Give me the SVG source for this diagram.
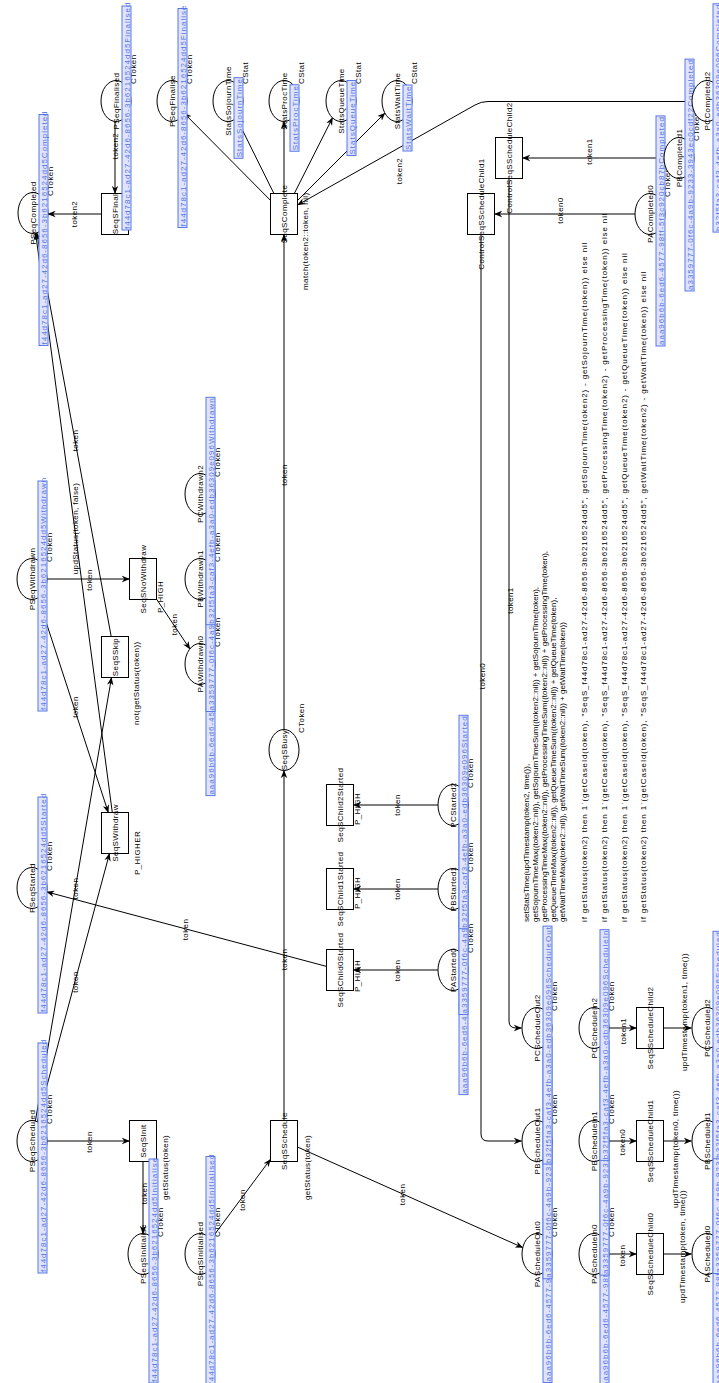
<svg xmlns="http://www.w3.org/2000/svg" width="719" height="1383" viewBox="0 0 719 1383">
<defs>
<marker id="ah" viewBox="0 0 10 10" refX="9.5" refY="5" markerWidth="8" markerHeight="8" markerUnits="userSpaceOnUse" orient="auto"><path d="M0,1 L10,5 L0,9 L3,5 z" fill="#000"/></marker>
<style>
text{font-family:"Liberation Sans",Arial,sans-serif;font-size:8px;fill:#000}
.pl,.tr{fill:#fff;stroke:#000;stroke-width:1}
.a{fill:none;stroke:#000;stroke-width:1;marker-end:url(#ah)}
.lb{fill:#dfe3fb;stroke:#5878e8;stroke-width:1}
.lt{fill:#5575e5;letter-spacing:1px}
.m{text-anchor:middle;letter-spacing:0.4px}
.s{letter-spacing:0.4px}
.w{letter-spacing:0.86px}
</style>
</defs>
<rect width="719" height="1383" fill="#fff"/>
<g transform="translate(0,1383) rotate(-90)">
<g id="connectors">
<path class="a" d="M1261.5,115 L1189.5,115"/><text class="m" x="1237" y="118">token2</text>
<path class="a" d="M1169,101.5 L1169,48"/><text class="m" x="1169" y="77">token2</text>
<path class="a" d="M1182.6,270.5 L1269.9,184"/>
<path class="a" d="M1189.5,273.9 L1265.3,236.3"/>
<path class="a" d="M1189.5,284 L1261.5,284"/>
<path class="a" d="M1189.5,294.3 L1265.3,332.6"/>
<path class="a" d="M1182.5,297.5 L1270,385"/>
<path class="a" d="M1281.5,692 L1281.5,488 Q1281.5,481 1278,475 L1178,297.5"/><text class="m" x="1212" y="402">token2</text>
<path class="a" d="M653.5,284 L1148.5,284"/><text class="m" x="908" y="287">token</text>
<path class="a" d="M262.5,284 L612.5,284"/><text class="m" x="423.5" y="287">token</text>
<path class="a" d="M143.2,210.6 L223.8,270.5"/><text class="m" x="183" y="245">token</text>
<path class="a" d="M236,297.5 L135.4,522.8"/><text class="m" x="188.5" y="405">token</text>
<path class="a" d="M242,47 L242,129.5"/><text class="m" x="241" y="92">token</text>
<path class="a" d="M221.5,143 L149.5,143"/><text class="m" x="189.5" y="147">token</text>
<path class="a" d="M261.5,35.3 L705.5,111.5"/><text class="m" x="494.5" y="78">token</text>
<path class="a" d="M260.8,37.1 L529.5,109.5"/><text class="m" x="401" y="78">token</text>
<path class="a" d="M785.7,38 L570.5,108.3"/><text class="m" x="676" y="78">token</text>
<path class="a" d="M570.5,112.3 L1150.3,35.6"/><text class="m" x="854.5" y="78">updStatus(token, false)</text>
<path class="a" d="M746.5,111.2 L1150.6,36.6"/><text class="m" x="942.5" y="78">token</text>
<path class="a" d="M804,47 L804,129.5"/><text class="m" x="803" y="92">token</text>
<path class="a" d="M783.9,156.5 L733.9,190"/><text class="m" x="758.5" y="177">token</text>
<path class="a" d="M416.6,326.5 L491.1,46.7"/><text class="m" x="453.5" y="188">token</text>
<path class="a" d="M413,438 L413,353.5"/><text class="m" x="412.5" y="400">token</text>
<path class="a" d="M494,438 L494,353.5"/><text class="m" x="494" y="400">token</text>
<path class="a" d="M578,438 L578,353.5"/><text class="m" x="578" y="400">token</text>
<path class="a" d="M1169,635 L1169,494.5"/><text class="m" x="1172.5" y="563">token0</text>
<path class="a" d="M1225,664 L1225,522.5"/><text class="m" x="1231.5" y="592">token1</text>
<path class="a" d="M1148.5,481 L249,481 Q242,481 242,488 L242,521.5"/><text class="m" x="707" y="485">token0</text>
<path class="a" d="M1204.5,509 L362,509 Q355,509 355,516 L355,521.5"/><text class="m" x="782.5" y="513">token1</text>
<path class="a" d="M129,609 L129,636.5"/><text class="m" x="127.5" y="625">token</text>
<path class="a" d="M242,609 L242,636.5"/><text class="m" x="241" y="625">token0</text>
<path class="a" d="M355,609 L355,636.5"/><text class="m" x="352" y="626">token1</text>
<path class="a" d="M129,663.5 L129,691.5"/><text class="m" x="136.5" y="685">updTimestamp(token, time())</text>
<path class="a" d="M242,663.5 L242,691.5"/><text class="m" x="234" y="678">updTimestamp(token0, time())</text>
<path class="a" d="M355,663.5 L355,691.5"/><text class="m" x="371" y="687">updTimestamp(token1, time())</text>
<g id="complete-inscriptions">
<text x="461" y="529">setStatsTime(updTimestamp(token2, time()),</text>
<text x="461" y="538">getSojournTimeMax((token2::nil)), getSojournTimeSum((token2::nil)) + getSojournTime(token),</text>
<text x="461" y="547">getProcessingTimeMax((token2::nil)), getProcessingTimeSum((token2::nil)) + getProcessingTime(token),</text>
<text x="461" y="556">getQueueTimeMax((token2::nil)), getQueueTimeSum((token2::nil)) + getQueueTime(token),</text>
<text x="461" y="565">getWaitTimeMax((token2::nil)), getWaitTimeSum((token2::nil)) + getWaitTime(token))</text>
<text class="w" x="461" y="587">if getStatus(token2) then 1`(getCaseId(token), "SeqS_f44d78c1-ad27-42d6-8656-3b6216524dd5", getSojournTime(token2) - getSojournTime(token)) else nil</text>
<text class="w" x="461" y="607">if getStatus(token2) then 1`(getCaseId(token), "SeqS_f44d78c1-ad27-42d6-8656-3b6216524dd5", getProcessingTime(token2) - getProcessingTime(token)) else nil</text>
<text class="w" x="461" y="627">if getStatus(token2) then 1`(getCaseId(token), "SeqS_f44d78c1-ad27-42d6-8656-3b6216524dd5", getQueueTime(token2) - getQueueTime(token)) else nil</text>
<text class="w" x="461" y="646">if getStatus(token2) then 1`(getCaseId(token), "SeqS_f44d78c1-ad27-42d6-8656-3b6216524dd5", getWaitTime(token2) - getWaitTime(token)) else nil</text>
</g>
</g>
<g id="SeqSFinal"><rect class="tr" x="1148.5" y="101.5" width="41" height="27"/><text class="m" x="1169" y="118">SeqSFinal</text></g>
<g id="SeqSComplete"><rect class="tr" x="1148.5" y="270.5" width="41" height="27"/><text class="m" x="1169" y="287">SeqSComplete</text><text class="s" x="1093" y="308">match(token2::token, nil)</text></g>
<g id="SeqSSkip"><rect class="tr" x="705.5" y="101.5" width="41" height="27"/><text class="m" x="726" y="118">SeqSSkip</text><text class="s" x="658" y="139">not(getStatus(token))</text></g>
<g id="SeqSNoWithdraw"><rect class="tr" x="783.5" y="129.5" width="41" height="27"/><text class="m" x="804" y="146">SeqSNoWithdraw</text><text class="s" x="770" y="163">P_HIGH</text></g>
<g id="SeqSWithdraw"><rect class="tr" x="529.5" y="101.5" width="41" height="27"/><text class="m" x="550" y="118">SeqSWithdraw</text><text class="s" x="508" y="140">P_HIGHER</text></g>
<g id="SeqSInit"><rect class="tr" x="221.5" y="129.5" width="41" height="27"/><text class="m" x="242" y="146">SeqSInit</text><text class="s" x="183" y="168">getStatus(token)</text></g>
<g id="SeqSSchedule"><rect class="tr" x="221.5" y="270.5" width="41" height="27"/><text class="m" x="242" y="287">SeqSSchedule</text><text class="s" x="183" y="310">getStatus(token)</text></g>
<g id="SeqSChild0Started"><rect class="tr" x="392.5" y="326.5" width="41" height="27"/><text class="m" x="413" y="343">SeqSChild0Started</text><text class="s" x="391" y="360">P_HIGH</text></g>
<g id="SeqSChild1Started"><rect class="tr" x="473.5" y="326.5" width="41" height="27"/><text class="m" x="494" y="343">SeqSChild1Started</text><text class="s" x="474" y="360">P_HIGH</text></g>
<g id="SeqSChild2Started"><rect class="tr" x="557.5" y="326.5" width="41" height="27"/><text class="m" x="578" y="343">SeqSChild2Started</text><text class="s" x="558" y="360">P_HIGH</text></g>
<g id="ControlSeqSScheduleChild1"><rect class="tr" x="1148.5" y="467.5" width="41" height="27"/><text class="m" x="1169" y="484">ControlSeqSScheduleChild1</text></g>
<g id="ControlSeqSScheduleChild2"><rect class="tr" x="1204.5" y="495.5" width="41" height="27"/><text class="m" x="1225" y="512">ControlSeqSScheduleChild2</text></g>
<g id="SeqSScheduleChild0"><rect class="tr" x="108.5" y="636.5" width="41" height="27"/><text class="m" x="129" y="653">SeqSScheduleChild0</text></g>
<g id="SeqSScheduleChild1"><rect class="tr" x="221.5" y="636.5" width="41" height="27"/><text class="m" x="242" y="653">SeqSScheduleChild1</text></g>
<g id="SeqSScheduleChild2"><rect class="tr" x="334.5" y="636.5" width="41" height="27"/><text class="m" x="355" y="653">SeqSScheduleChild2</text></g>

<g id="PSeqCompleted"><ellipse class="pl" cx="1170" cy="33" rx="20.5" ry="15"/><text class="m" x="1170" y="36">PSeqCompleted</text><text class="s" x="1187" y="53">CToken</text><rect class="lb" x="1037.5" y="39" width="231" height="9"/><text class="lt" x="1038.5" y="46.5">f44d78c1-ad27-42d6-8656-3b6216524dd5Completed</text></g>
<g id="PSeqWithdrawn"><ellipse class="pl" cx="804" cy="32" rx="20.5" ry="15"/><text class="m" x="804" y="35">PSeqWithdrawn</text><text class="s" x="821" y="52">CToken</text><rect class="lb" x="672" y="38" width="230" height="9"/><text class="lt" x="673" y="45.5">f44d78c1-ad27-42d6-8656-3b6216524dd5Withdrawn</text></g>
<g id="PSeqStarted"><ellipse class="pl" cx="495" cy="32" rx="20.5" ry="15"/><text class="m" x="495" y="35">PSeqStarted</text><text class="s" x="512" y="52">CToken</text><rect class="lb" x="370" y="38" width="216" height="9"/><text class="lt" x="371" y="45.5">f44d78c1-ad27-42d6-8656-3b6216524dd5Started</text></g>
<g id="PSeqScheduled"><ellipse class="pl" cx="242" cy="32" rx="20.5" ry="15"/><text class="m" x="242" y="35">PSeqScheduled</text><text class="s" x="259" y="52">CToken</text><rect class="lb" x="110" y="38" width="230" height="9"/><text class="lt" x="111" y="45.5">f44d78c1-ad27-42d6-8656-3b6216524dd5Scheduled</text></g>
<g id="PSeqFinalised"><ellipse class="pl" cx="1282" cy="116" rx="20.5" ry="15"/><text class="m" x="1282" y="119">PSeqFinalised</text><text class="s" x="1299" y="136">CToken</text><rect class="lb" x="1153" y="122" width="224" height="9"/><text class="lt" x="1154" y="129.5">f44d78c1-ad27-42d6-8656-3b6216524dd5Finalised</text></g>
<g id="PSeqFinalise"><ellipse class="pl" cx="1282" cy="172" rx="20.5" ry="15"/><text class="m" x="1282" y="175">PSeqFinalise</text><text class="s" x="1299" y="192">CToken</text><rect class="lb" x="1155.5" y="178" width="219" height="9"/><text class="lt" x="1156.5" y="185.5">f44d78c1-ad27-42d6-8656-3b6216524dd5Finalise</text></g>
<g id="PSeqSInitialise"><ellipse class="pl" cx="129" cy="143" rx="20.5" ry="15"/><text class="m" x="129" y="146">PSeqSInitialise</text><text class="s" x="146" y="163">CToken</text><rect class="lb" x="0" y="149" width="224" height="9"/><text class="lt" x="1" y="156.5">f44d78c1-ad27-42d6-8656-3b6216524dd5Initialise</text></g>
<g id="PSeqSInitialised"><ellipse class="pl" cx="129" cy="200" rx="20.5" ry="15"/><text class="m" x="129" y="203">PSeqSInitialised</text><text class="s" x="146" y="220">CToken</text><rect class="lb" x="-2.5" y="206" width="229" height="9"/><text class="lt" x="-1.5" y="213.5">f44d78c1-ad27-42d6-8656-3b6216524dd5Initialised</text></g>
<g id="StatsSojournTime"><ellipse class="pl" cx="1282" cy="228" rx="20.5" ry="15"/><text class="m" x="1282" y="231">StatsSojournTime</text><text class="s" x="1299" y="248">CStat</text><rect class="lb" x="1224.7" y="234" width="80.6" height="9"/><text class="lt" x="1225.7" y="241.5">StatsSojournTime</text></g>
<g id="StatsProcTime"><ellipse class="pl" cx="1282" cy="284" rx="20.5" ry="15"/><text class="m" x="1282" y="287">StatsProcTime</text><text class="s" x="1299" y="304">CStat</text><rect class="lb" x="1231.75" y="290" width="66.5" height="9"/><text class="lt" x="1232.75" y="297.5">StatsProcTime</text></g>
<g id="StatsQueueTime"><ellipse class="pl" cx="1282" cy="341" rx="20.5" ry="15"/><text class="m" x="1282" y="344">StatsQueueTime</text><text class="s" x="1299" y="361">CStat</text><rect class="lb" x="1227.5" y="347" width="75" height="9"/><text class="lt" x="1228.5" y="354.5">StatsQueueTime</text></g>
<g id="StatsWaitTime"><ellipse class="pl" cx="1282" cy="397" rx="20.5" ry="15"/><text class="m" x="1282" y="400">StatsWaitTime</text><text class="s" x="1299" y="417">CStat</text><rect class="lb" x="1232" y="403" width="66" height="9"/><text class="lt" x="1233" y="410.5">StatsWaitTime</text></g>
<g id="SeqSBusy"><ellipse class="pl" cx="633" cy="284" rx="20.5" ry="15"/><text class="m" x="633" y="287">SeqSBusy</text><text class="s" x="650" y="304">CToken</text></g>
<g id="PAWithdrawn0"><ellipse class="pl" cx="719" cy="200" rx="20.5" ry="15"/><text class="m" x="719" y="203">PAWithdrawn0</text><text class="s" x="736" y="220">CToken</text><rect class="lb" x="587.4" y="206" width="229.2" height="9"/><text class="lt" x="588.4" y="213.5">aaa96b6b-6ed6-4577-98ff-5f3c920cb87bWithdrawn</text></g>
<g id="PBWithdrawn1"><ellipse class="pl" cx="804" cy="200" rx="20.5" ry="15"/><text class="m" x="804" y="203">PBWithdrawn1</text><text class="s" x="821" y="220">CToken</text><rect class="lb" x="671.5" y="206" width="231" height="9"/><text class="lt" x="672.5" y="213.5">a3359777-0f6c-4a9b-9233-3943ec0cdf22Withdrawn</text></g>
<g id="PCWithdrawn2"><ellipse class="pl" cx="889" cy="200" rx="20.5" ry="15"/><text class="m" x="889" y="203">PCWithdrawn2</text><text class="s" x="906" y="220">CToken</text><rect class="lb" x="758.3" y="206" width="227.4" height="9"/><text class="lt" x="759.3" y="213.5">b32f5fa3-caf3-4efb-a3a0-edb36309e096Withdrawn</text></g>
<g id="PAStarted0"><ellipse class="pl" cx="413" cy="453" rx="20.5" ry="15"/><text class="m" x="413" y="456">PAStarted0</text><text class="s" x="430" y="473">CToken</text><rect class="lb" x="288.4" y="459" width="215.2" height="9"/><text class="lt" x="289.4" y="466.5">aaa96b6b-6ed6-4577-98ff-5f3c920cb87bStarted</text></g>
<g id="PBStarted1"><ellipse class="pl" cx="494" cy="453" rx="20.5" ry="15"/><text class="m" x="494" y="456">PBStarted1</text><text class="s" x="511" y="473">CToken</text><rect class="lb" x="368.5" y="459" width="217" height="9"/><text class="lt" x="369.5" y="466.5">a3359777-0f6c-4a9b-9233-3943ec0cdf22Started</text></g>
<g id="PCStarted2"><ellipse class="pl" cx="578" cy="453" rx="20.5" ry="15"/><text class="m" x="578" y="456">PCStarted2</text><text class="s" x="595" y="473">CToken</text><rect class="lb" x="454.3" y="459" width="213.4" height="9"/><text class="lt" x="455.3" y="466.5">b32f5fa3-caf3-4efb-a3a0-edb36309e096Started</text></g>
<g id="PACompleted0"><ellipse class="pl" cx="1169" cy="650" rx="20.5" ry="15"/><text class="m" x="1169" y="653">PACompleted0</text><text class="s" x="1186" y="670">CToken</text><rect class="lb" x="1037" y="656" width="230.1" height="9"/><text class="lt" x="1038" y="663.5">aaa96b6b-6ed6-4577-98ff-5f3c920cb87bCompleted</text></g>
<g id="PBCompleted1"><ellipse class="pl" cx="1225" cy="679" rx="20.5" ry="15"/><text class="m" x="1225" y="682">PBCompleted1</text><text class="s" x="1242" y="699">CToken</text><rect class="lb" x="1092" y="685" width="231.9" height="9"/><text class="lt" x="1093" y="692.5">a3359777-0f6c-4a9b-9233-3943ec0cdf22Completed</text></g>
<g id="PCCompleted2"><ellipse class="pl" cx="1282" cy="707" rx="20.5" ry="15"/><text class="m" x="1282" y="710">PCCompleted2</text><text class="s" x="1299" y="727">CToken</text><rect class="lb" x="1150.9" y="713" width="228.3" height="9"/><text class="lt" x="1151.9" y="720.5">b32f5fa3-caf3-4efb-a3a0-edb36309e096Completed</text></g>
<g id="PAScheduleOut0"><ellipse class="pl" cx="129" cy="537" rx="20.5" ry="15"/><text class="m" x="129" y="540">PAScheduleOut0</text><text class="s" x="146" y="557">CToken</text><rect class="lb" x="0.5" y="543" width="239.7" height="9"/><text class="lt" x="1.5" y="550.5">aaa96b6b-6ed6-4577-98ff-5f3c920cb87bScheduleOut</text></g>
<g id="PBScheduleOut1"><ellipse class="pl" cx="242" cy="537" rx="20.5" ry="15"/><text class="m" x="242" y="540">PBScheduleOut1</text><text class="s" x="259" y="557">CToken</text><rect class="lb" x="104.3" y="543" width="241.4" height="9"/><text class="lt" x="105.3" y="550.5">a3359777-0f6c-4a9b-9233-3943ec0cdf22ScheduleOut</text></g>
<g id="PCScheduleOut2"><ellipse class="pl" cx="355" cy="537" rx="20.5" ry="15"/><text class="m" x="355" y="540">PCScheduleOut2</text><text class="s" x="372" y="557">CToken</text><rect class="lb" x="219" y="543" width="237.9" height="9"/><text class="lt" x="220" y="550.5">b32f5fa3-caf3-4efb-a3a0-edb36309e096ScheduleOut</text></g>
<g id="PAScheduleIn0"><ellipse class="pl" cx="129" cy="594" rx="20.5" ry="15"/><text class="m" x="129" y="597">PAScheduleIn0</text><text class="s" x="146" y="614">CToken</text><rect class="lb" x="-4.25" y="600" width="232.5" height="9"/><text class="lt" x="-3.25" y="607.5">aaa96b6b-6ed6-4577-98ff-5f3c920cb87bScheduleIn</text></g>
<g id="PBScheduleIn1"><ellipse class="pl" cx="242" cy="594" rx="20.5" ry="15"/><text class="m" x="242" y="597">PBScheduleIn1</text><text class="s" x="259" y="614">CToken</text><rect class="lb" x="107.9" y="600" width="234.2" height="9"/><text class="lt" x="108.9" y="607.5">a3359777-0f6c-4a9b-9233-3943ec0cdf22ScheduleIn</text></g>
<g id="PCScheduleIn2"><ellipse class="pl" cx="355" cy="594" rx="20.5" ry="15"/><text class="m" x="355" y="597">PCScheduleIn2</text><text class="s" x="372" y="614">CToken</text><rect class="lb" x="222.65" y="600" width="230.7" height="9"/><text class="lt" x="223.65" y="607.5">b32f5fa3-caf3-4efb-a3a0-edb36309e096ScheduleIn</text></g>
<g id="PAScheduled0"><ellipse class="pl" cx="129" cy="707" rx="20.5" ry="15"/><text class="m" x="129" y="710">PAScheduled0</text><text class="s" x="146" y="727">CToken</text><rect class="lb" x="-2.6" y="713" width="229.2" height="9"/><text class="lt" x="-1.6" y="720.5">aaa96b6b-6ed6-4577-98ff-5f3c920cb87bScheduled</text></g>
<g id="PBScheduled1"><ellipse class="pl" cx="242" cy="707" rx="20.5" ry="15"/><text class="m" x="242" y="710">PBScheduled1</text><text class="s" x="259" y="727">CToken</text><rect class="lb" x="109.5" y="713" width="231" height="9"/><text class="lt" x="110.5" y="720.5">a3359777-0f6c-4a9b-9233-3943ec0cdf22Scheduled</text></g>
<g id="PCScheduled2"><ellipse class="pl" cx="355" cy="707" rx="20.5" ry="15"/><text class="m" x="355" y="710">PCScheduled2</text><text class="s" x="372" y="727">CToken</text><rect class="lb" x="224.3" y="713" width="227.4" height="9"/><text class="lt" x="225.3" y="720.5">b32f5fa3-caf3-4efb-a3a0-edb36309e096Scheduled</text></g>
</g>
</svg>
